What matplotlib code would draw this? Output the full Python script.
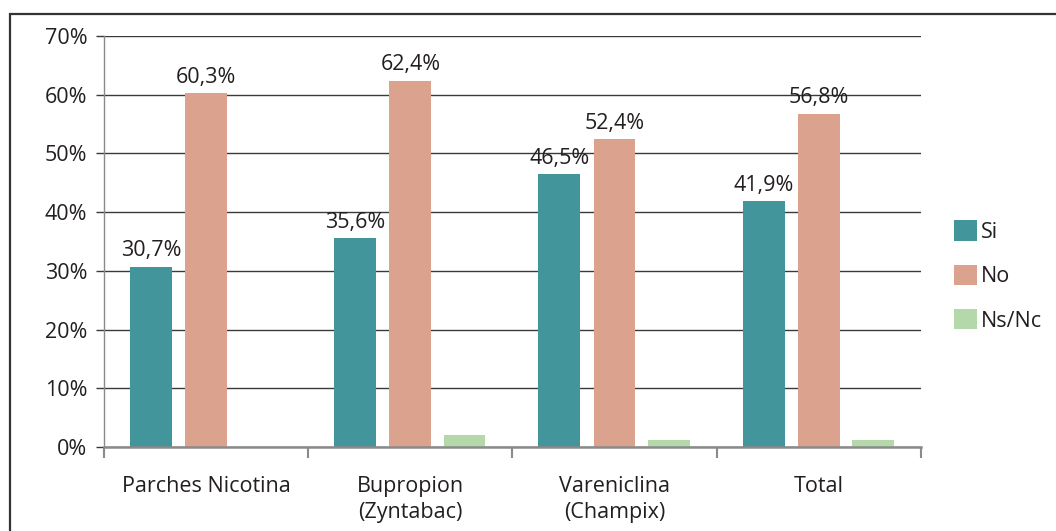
import matplotlib
matplotlib.use("Agg")
import matplotlib.pyplot as plt
import numpy as np
from matplotlib.patches import Rectangle

categories = ["Parches Nicotina", "Bupropion\n(Zyntabac)", "Vareniclina\n(Champix)", "Total"]
series_names = ["Si", "No", "Ns/Nc"]
si_values = [30.7, 35.6, 46.5, 41.9]
no_values = [60.3, 62.4, 52.4, 56.8]
nsnc_values = [0.0, 2.0, 1.2, 1.2]
si_labels = ["30,7%", "35,6%", "46,5%", "41,9%"]
no_labels = ["60,3%", "62,4%", "52,4%", "56,8%"]
y_ticks = [0, 10, 20, 30, 40, 50, 60, 70]
y_tick_labels = ["0%", "10%", "20%", "30%", "40%", "50%", "60%", "70%"]

colors = ["#43959C", "#DBA28D", "#B5D8AA"]
text_color = "#231F20"
fs = 15.5

plt.rcParams["font.family"] = ["Open Sans", "DejaVu Sans"]

fig = plt.figure(figsize=(10.56, 5.31), dpi=100)
ax = fig.add_axes([0.0985, 0.1582, 0.7735, 0.774])

# outer frame running off the right and bottom edges
fig.patches.append(Rectangle((10 / 1056, -0.05), 1.2, 1 - 14 / 531 + 0.05,
                             transform=fig.transFigure, fill=False,
                             edgecolor="#333333", linewidth=1.6, zorder=0))

x = np.arange(len(categories))
width = 0.205
offsets = [-0.27, 0.0, 0.265]
all_values = [si_values, no_values, nsnc_values]
for vals, off, col, name in zip(all_values, offsets, colors, series_names):
    ax.bar(x + off, vals, width, color=col, label=name, zorder=3)

for xi, v, lab in zip(x, si_values, si_labels):
    ax.text(xi + offsets[0], v + 0.9, lab, ha="center", va="bottom",
            fontsize=fs, color=text_color, zorder=4)
for xi, v, lab in zip(x, no_values, no_labels):
    ax.text(xi + offsets[1], v + 0.9, lab, ha="center", va="bottom",
            fontsize=fs, color=text_color, zorder=4)

ax.set_xlim(-0.5, len(categories) - 0.5)
ax.set_ylim(0, 70)
ax.set_yticks(y_ticks)
ax.set_yticklabels(y_tick_labels, fontsize=fs, color=text_color)
ax.yaxis.grid(True, color="#3a3a3a", linewidth=1.0, zorder=1)
ax.set_axisbelow(True)
ax.tick_params(axis="y", length=6, width=1.0, color="#3a3a3a", pad=6)

ax.set_xticks(x)
ax.set_xticklabels(categories, fontsize=fs, color=text_color, linespacing=1.3)
ax.set_xticks(np.arange(-0.5, len(categories) + 0.5, 1.0), minor=True)
ax.tick_params(axis="x", which="major", length=0, pad=21)
ax.tick_params(axis="x", which="minor", length=8, width=1.5, color="#8a8a8a")

for side in ["top", "right"]:
    ax.spines[side].set_visible(False)
ax.spines["left"].set_color("#8a8a8a")
ax.spines["bottom"].set_color("#8a8a8a")
ax.spines["left"].set_linewidth(1.0)
ax.spines["bottom"].set_linewidth(1.8)
ax.spines["bottom"].set_zorder(5)

leg = ax.legend(loc="center left", bbox_to_anchor=(1.040, 0.416), frameon=False,
                fontsize=fs, handlelength=1.07, handleheight=1.07,
                handletextpad=0.2, labelspacing=1.02, borderpad=0, borderaxespad=0)
for t in leg.get_texts():
    t.set_color(text_color)

fig.savefig("out.png", dpi=100)
